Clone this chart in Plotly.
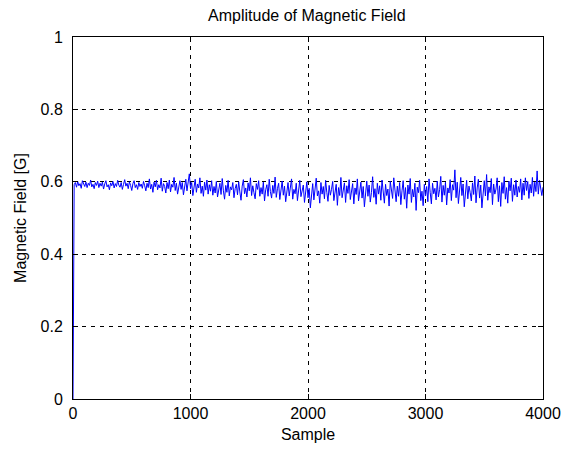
import plotly.graph_objects as go

title_text = "Amplitude of Magnetic Field"
x_label = "Sample"
y_label = "Magnetic Field [G]"

sample_step = 10
field_values = [
    0.000, 0.592, 0.598, 0.585, 0.601, 0.589, 0.595, 0.582, 0.603, 0.591, 0.587, 0.599, 0.584, 0.596, 0.590, 0.605, 0.586, 0.593, 0.581, 0.598,
    0.590, 0.602, 0.584, 0.596, 0.588, 0.599, 0.580, 0.594, 0.603, 0.586, 0.592, 0.578, 0.597, 0.589, 0.601, 0.583, 0.595, 0.587, 0.604, 0.591,
    0.585, 0.598, 0.579, 0.593, 0.606, 0.588, 0.596, 0.581, 0.600, 0.590, 0.576, 0.595, 0.603, 0.584, 0.592, 0.579, 0.598, 0.587, 0.594, 0.582,
    0.601, 0.589, 0.575, 0.596, 0.584, 0.608, 0.580, 0.593, 0.571, 0.599, 0.586, 0.604, 0.578, 0.592, 0.583, 0.610, 0.574, 0.595, 0.587, 0.569,
    0.598, 0.581, 0.605, 0.572, 0.593, 0.585, 0.612, 0.576, 0.596, 0.566, 0.590, 0.603, 0.579, 0.598, 0.564, 0.587, 0.607, 0.575, 0.594, 0.622,
    0.581, 0.598, 0.562, 0.590, 0.607, 0.571, 0.594, 0.583, 0.611, 0.568, 0.588, 0.560, 0.599, 0.577, 0.605, 0.566, 0.592, 0.574, 0.603, 0.563,
    0.587, 0.569, 0.601, 0.558, 0.584, 0.596, 0.565, 0.609, 0.575, 0.552, 0.590, 0.571, 0.604, 0.561, 0.586, 0.578, 0.598, 0.556, 0.581, 0.593,
    0.564, 0.600, 0.572, 0.549, 0.588, 0.606, 0.567, 0.583, 0.558, 0.597, 0.575, 0.611, 0.562, 0.589, 0.570, 0.553, 0.595, 0.579, 0.603, 0.560,
    0.584, 0.566, 0.599, 0.547, 0.578, 0.592, 0.560, 0.607, 0.573, 0.555, 0.590, 0.568, 0.613, 0.557, 0.581, 0.596, 0.551, 0.576, 0.602, 0.563,
    0.588, 0.545, 0.574, 0.598, 0.561, 0.585, 0.608, 0.552, 0.579, 0.567, 0.596, 0.548, 0.583, 0.604, 0.559, 0.572, 0.591, 0.543, 0.577, 0.600,
    0.556, 0.582, 0.528, 0.569, 0.595, 0.550, 0.586, 0.610, 0.561, 0.575, 0.541, 0.598, 0.566, 0.587, 0.553, 0.604, 0.571, 0.546, 0.590, 0.563,
    0.579, 0.601, 0.548, 0.570, 0.593, 0.535, 0.584, 0.562, 0.612, 0.556, 0.577, 0.597, 0.543, 0.589, 0.568, 0.606, 0.551, 0.574, 0.595, 0.539,
    0.583, 0.565, 0.608, 0.547, 0.572, 0.599, 0.555, 0.587, 0.531, 0.578, 0.602, 0.560, 0.591, 0.544, 0.570, 0.614, 0.557, 0.581, 0.538, 0.596,
    0.566, 0.589, 0.549, 0.605, 0.573, 0.541, 0.593, 0.562, 0.580, 0.533, 0.601, 0.569, 0.554, 0.611, 0.576, 0.545, 0.588, 0.560, 0.598, 0.537,
    0.575, 0.603, 0.552, 0.584, 0.527, 0.591, 0.566, 0.609, 0.543, 0.579, 0.558, 0.596, 0.521, 0.585, 0.570, 0.604, 0.548, 0.574, 0.534, 0.593,
    0.561, 0.587, 0.545, 0.608, 0.571, 0.539, 0.596, 0.567, 0.582, 0.550, 0.602, 0.558, 0.578, 0.615, 0.544, 0.590, 0.563, 0.599, 0.536, 0.583,
    0.569, 0.606, 0.548, 0.592, 0.577, 0.633, 0.556, 0.599, 0.540, 0.585, 0.612, 0.562, 0.594, 0.531, 0.579, 0.604, 0.553, 0.588, 0.571, 0.547,
    0.597, 0.565, 0.616, 0.542, 0.583, 0.607, 0.555, 0.591, 0.528, 0.576, 0.603, 0.561, 0.620, 0.549, 0.586, 0.570, 0.609, 0.537, 0.594, 0.566,
    0.580, 0.611, 0.545, 0.589, 0.532, 0.598, 0.568, 0.614, 0.552, 0.584, 0.541, 0.602, 0.575, 0.610, 0.546, 0.592, 0.563, 0.605, 0.558, 0.587,
    0.571, 0.608, 0.550, 0.596, 0.563, 0.611, 0.576, 0.601, 0.554, 0.593, 0.569, 0.612, 0.560, 0.599, 0.573, 0.630, 0.566, 0.604, 0.578, 0.562,
    0.585,
]
samples = [i * sample_step for i in range(len(field_values))]

x_tick_vals = [0, 1000, 2000, 3000, 4000]
x_tick_text = ["0", "1000", "2000", "3000", "4000"]
y_tick_vals = [0, 0.2, 0.4, 0.6, 0.8, 1]
y_tick_text = ["0", "0.2", "0.4", "0.6", "0.8", "1"]

font_family = "Liberation Sans, Arial, sans-serif"

fig = go.Figure()
fig.add_trace(go.Scatter(
    x=samples, y=field_values, mode="lines",
    line=dict(color="#0000FF", width=1),
    showlegend=False,
))

axis_common = dict(
    showline=True, linecolor="black", linewidth=1, mirror="ticks",
    ticks="inside", ticklen=5, tickcolor="black",
    showgrid=True, gridcolor="black", gridwidth=1, griddash="4px,5px",
    zeroline=False, automargin=False, ticklabeloverflow="allow",
    tickfont=dict(family=font_family, size=16, color="black"),
)

fig.update_xaxes(
    range=[0, 4000], tickvals=x_tick_vals, ticktext=x_tick_text,
    title=dict(text=x_label, font=dict(family=font_family, size=16, color="black"), standoff=7),
    **axis_common,
)
fig.update_yaxes(
    range=[0, 1], tickvals=y_tick_vals, ticktext=y_tick_text,
    ticklabelstandoff=6,
    title=dict(text=y_label, font=dict(family=font_family, size=16, color="black"), standoff=9),
    **axis_common,
)

fig.update_layout(
    width=563, height=454,
    margin=dict(l=73, r=20, t=37, b=55),
    paper_bgcolor="white", plot_bgcolor="white",
    title=dict(text=title_text, x=0.545, xanchor="center", y=0.965, yanchor="middle",
               font=dict(family=font_family, size=16, color="black")),
    font=dict(family=font_family, color="black"),
    hovermode=False,
)

# remove the page's default body margin so the figure fills the window exactly
fig.write_html(
    "out.html",
    config={"displayModeBar": False, "staticPlot": True},
    post_script="document.body.style.margin='0px'; document.body.style.overflow='hidden';",
)
